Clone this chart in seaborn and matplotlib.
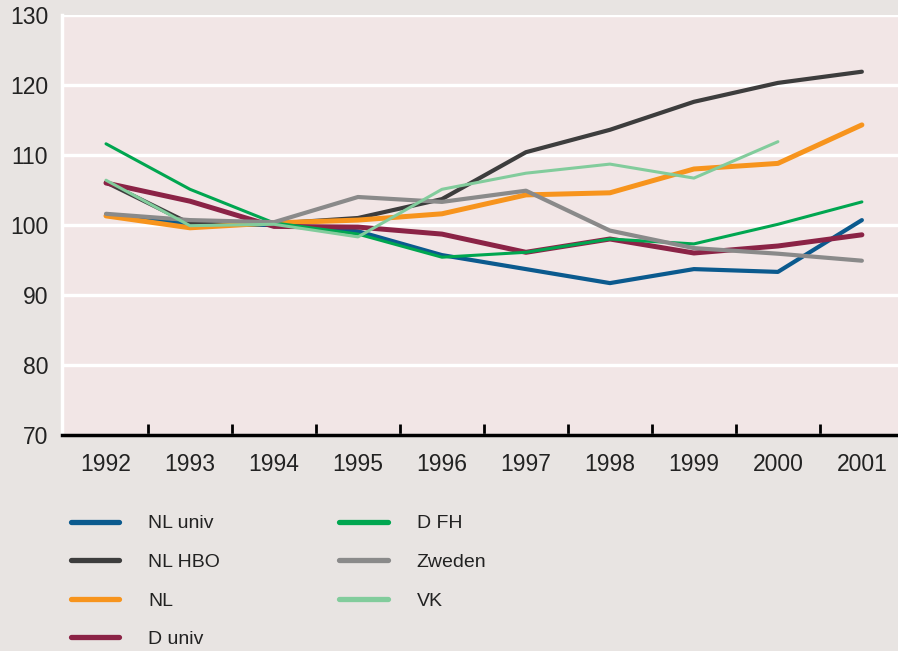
import numpy as np
import pandas as pd
import matplotlib
matplotlib.use('Agg')
import matplotlib.pyplot as plt
import seaborn as sns

years = [1992, 1993, 1994, 1995, 1996, 1997, 1998, 1999, 2000, 2001]
series_names = ['NL univ', 'NL HBO', 'NL', 'D univ', 'D FH', 'Zweden', 'VK']

nl_univ = [101.4, 100.1, 100.0, 99.1, 95.7, 93.7, 91.7, 93.7, 93.3, 100.7]
nl_hbo = [106.1, 100.2, 100.2, 101.0, 103.7, 110.4, 113.6, 117.6, 120.3, 121.9]
nl = [101.3, 99.6, 100.3, 100.7, 101.6, 104.3, 104.6, 108.0, 108.8, 114.3]
d_univ = [106.0, 103.4, 99.8, 99.7, 98.7, 96.1, 98.0, 96.0, 97.0, 98.6]
d_fh = [111.6, 105.1, 100.3, 98.7, 95.4, 96.1, 98.0, 97.3, 100.1, 103.3]
zweden = [101.6, 100.7, 100.4, 104.0, 103.3, 104.9, 99.2, 96.7, 95.9, 94.9]
vk = [106.4, 99.9, 100.1, 98.3, 105.1, 107.4, 108.7, 106.7, 111.9, np.nan]

colors = ['#0b5a8e', '#3d3d3d', '#f7941d', '#8b2346', '#00a650', '#8a8a8a', '#82cc9c']
widths = [3.0, 3.0, 3.6, 3.6, 2.2, 3.0, 2.2]

values = [nl_univ, nl_hbo, nl, d_univ, d_fh, zweden, vk]
df = pd.concat([pd.DataFrame({'pos': np.arange(len(years)), 'value': v, 'serie': n})
                for n, v in zip(series_names, values)], ignore_index=True)

sns.set_theme(style='white')
plt.rcParams['font.family'] = ['Liberation Sans', 'DejaVu Sans']
plt.rcParams['text.color'] = '#222222'

fig = plt.figure(figsize=(8.98, 6.51), dpi=100, facecolor='#e8e4e2')
ax = fig.add_axes([62 / 898, 1 - 435 / 651, 1 - 62 / 898, (435 - 15) / 651])
ax.set_facecolor('#f2e6e6')

for name, col, lw in zip(series_names, colors, widths):
    sub = df[df['serie'] == name].dropna()
    sns.lineplot(data=sub, x='pos', y='value', color=col, linewidth=lw,
                 ax=ax, label=name, legend=False)

ax.set_ylim(70, 130)
ax.set_xlim(-0.524, 9.43)
ax.set_yticks(range(70, 131, 10))
ax.grid(axis='y', color='white', linewidth=2.4, zorder=0)
ax.set_axisbelow(True)

# ticks between years, labels under the years
ax.set_xticks(np.arange(len(years) - 1) + 0.5)
ax.set_xticks(np.arange(len(years)), minor=True)
ax.set_xticklabels([])
ax.set_xticklabels([str(y) for y in years], minor=True)
ax.tick_params(axis='x', which='major', direction='in', length=8, width=2,
               color='black', bottom=True)
ax.tick_params(axis='x', which='minor', length=0, pad=13, labelsize=16.5,
               labelcolor='#222222')
ax.tick_params(axis='y', length=0, pad=10, labelsize=16.5, labelcolor='#222222')
ax.set_xlabel('')
ax.set_ylabel('')

for s in ['top', 'right']:
    ax.spines[s].set_visible(False)
ax.spines['left'].set_color('white')
ax.spines['left'].set_linewidth(2.5)
ax.spines['bottom'].set_color('black')
ax.spines['bottom'].set_linewidth(2.5)

handles, labels = ax.get_legend_handles_labels()
leg = fig.legend(handles, labels, loc='upper left', ncol=2,
                 bbox_to_anchor=(61 / 898, 1 - 505 / 651), frameon=False,
                 fontsize=14, handlelength=2.5, handletextpad=1.5,
                 columnspacing=6.1, labelspacing=1.08, borderpad=0)
for h in leg.get_lines():
    h.set_linewidth(3.8)

fig.savefig('out.png', dpi=100, facecolor=fig.get_facecolor())
